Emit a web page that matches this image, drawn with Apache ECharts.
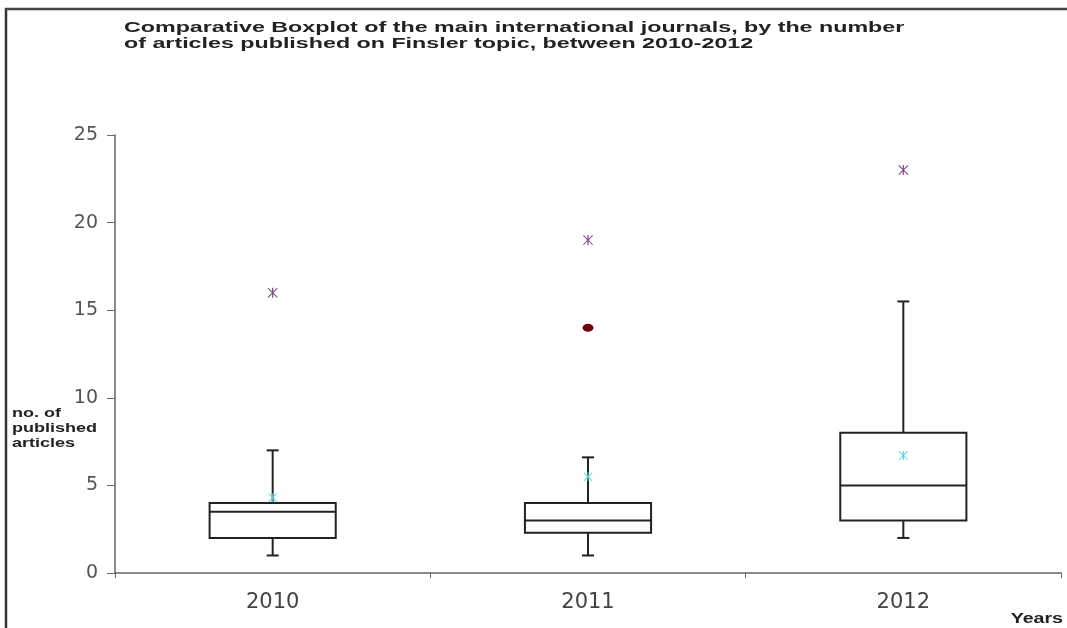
<!DOCTYPE html>
<html>
<head>
<meta charset="utf-8">
<script src="https://cdn.jsdelivr.net/npm/echarts@6/dist/echarts.min.js"></script>
<style>html,body{margin:0;padding:0;background:#fff;}#chart{width:1067px;height:628px;}</style>
</head>
<body>
<div id="chart"></div>
<script>
// ---- data ----
var categories = ['2010', '2011', '2012'];
var whiskerLow = [1, 1, 2];
var q1 = [2, 2.3, 3];
var median = [3.5, 3, 5];
var q3 = [4, 4, 8];
var whiskerHigh = [7, 6.6, 15.5];
var means = [4.3, 5.5, 6.7];
var extremeOutliers = [[0, 16], [1, 19], [2, 23]];
var outliers = [[1, 14]];
var yTicks = [0, 5, 10, 15, 20, 25];

var titleText = 'Comparative Boxplot of the main international journals, by the number\nof articles published on Finsler topic, between 2010-2012';

var boxData = categories.map(function (c, i) {
  return [i, whiskerLow[i], q1[i], median[i], q3[i], whiskerHigh[i]];
});
var meanData = means.map(function (m, i) { return [i, m]; });

var starPath = 'path://M-10,-8.6L-8.6,-10L10,8.6L8.6,10Z M8.6,-10L10,-8.6L-8.6,10L-10,8.6Z M-1.2,-10L1.2,-10L1.2,10L-1.2,10Z';

var chart = echarts.init(document.getElementById('chart'));
var lineColor = '#222';

chart.setOption({
  animation: false,
  backgroundColor: '#fff',
  grid: { left: 115, top: 135, right: 6, bottom: 55 },
  xAxis: {
    type: 'category',
    data: categories,
    boundaryGap: true,
    axisLine: { lineStyle: { color: '#666', width: 1.5 } },
    axisTick: { show: true, length: 5, lineStyle: { color: '#666' } },
    axisLabel: { color: '#444', fontSize: 21, fontFamily: 'DejaVu Sans', margin: 19 },
    splitLine: { show: false }
  },
  yAxis: {
    type: 'value',
    min: yTicks[0],
    max: yTicks[yTicks.length - 1],
    interval: 5,
    axisLine: { show: true, lineStyle: { color: '#666', width: 1.5 } },
    axisTick: { show: true, length: 8, lineStyle: { color: '#666' } },
    axisLabel: { color: '#555', fontSize: 19, fontFamily: 'DejaVu Sans', margin: 17 },
    splitLine: { show: false }
  },
  graphic: [
    { type: 'line', shape: { x1: 6, y1: 8, x2: 6, y2: 628 }, style: { stroke: '#333', lineWidth: 2.5 } },
    { type: 'line', shape: { x1: 5, y1: 9, x2: 1067, y2: 9 }, style: { stroke: '#444', lineWidth: 2.5 } },
    { type: 'text', x: 124, y: 20, scaleX: 1.55,
      style: { text: titleText, font: 'bold 15px "Liberation Sans"', fill: '#222', lineHeight: 16 } },
    { type: 'text', x: 12, y: 406, scaleX: 1.5,
      style: { text: 'no. of\npublished\narticles', font: 'bold 12px "Liberation Sans"', fill: '#222', lineHeight: 15 } },
    { type: 'text', x: 1063, y: 612, scaleX: 1.4,
      style: { text: 'Years', font: 'bold 14px "Liberation Sans"', fill: '#222', align: 'right' } }
  ],
  series: [
    {
      type: 'custom',
      data: boxData,
      encode: { x: 0, y: [1, 2, 3, 4, 5] },
      renderItem: function (params, api) {
        var x = api.value(0);
        var pLow = api.coord([x, api.value(1)]);
        var pQ1 = api.coord([x, api.value(2)]);
        var pMed = api.coord([x, api.value(3)]);
        var pQ3 = api.coord([x, api.value(4)]);
        var pHigh = api.coord([x, api.value(5)]);
        var bw = api.size([1, 0])[0] * 0.4;
        var cx = pMed[0];
        var cap = 6;
        var st = { stroke: lineColor, lineWidth: 2, fill: null };
        return {
          type: 'group',
          children: [
            { type: 'rect', shape: { x: cx - bw / 2, y: pQ3[1], width: bw, height: pQ1[1] - pQ3[1] }, style: { stroke: lineColor, lineWidth: 2, fill: 'rgba(0,0,0,0)' } },
            { type: 'line', shape: { x1: cx - bw / 2, y1: pMed[1], x2: cx + bw / 2, y2: pMed[1] }, style: st },
            { type: 'line', shape: { x1: cx, y1: pQ3[1], x2: cx, y2: pHigh[1] }, style: st },
            { type: 'line', shape: { x1: cx, y1: pQ1[1], x2: cx, y2: pLow[1] }, style: st },
            { type: 'line', shape: { x1: cx - cap, y1: pHigh[1], x2: cx + cap, y2: pHigh[1] }, style: st },
            { type: 'line', shape: { x1: cx - cap, y1: pLow[1], x2: cx + cap, y2: pLow[1] }, style: st }
          ]
        };
      },
      z: 2
    },
    {
      type: 'scatter',
      data: meanData,
      symbol: starPath,
      symbolSize: 9,
      itemStyle: { color: '#4fd3dd', opacity: 1 },
      z: 3
    },
    {
      type: 'scatter',
      data: extremeOutliers,
      symbol: starPath,
      symbolSize: 10,
      itemStyle: { color: '#84428a', opacity: 1 },
      z: 3
    },
    {
      type: 'scatter',
      data: outliers,
      symbol: 'circle',
      symbolSize: [11, 8],
      itemStyle: { color: '#6e0606', opacity: 1 },
      z: 3
    }
  ]
});
</script>
</body>
</html>
